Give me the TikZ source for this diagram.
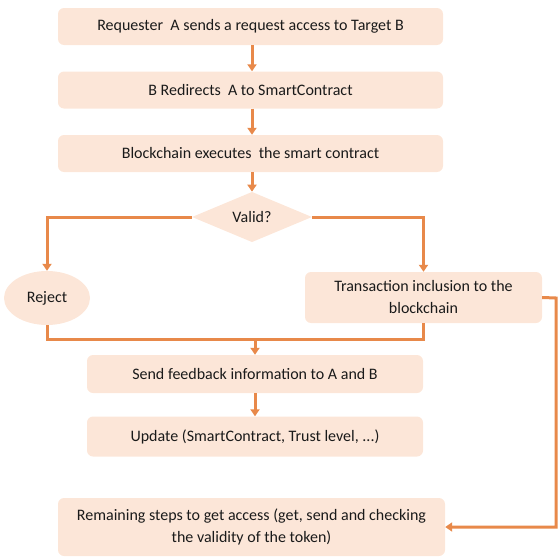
\documentclass[tikz,border=0pt]{standalone}
\usepackage{fontspec}
\setmainfont{Carlito}
\usetikzlibrary{shapes.geometric,arrows.meta}
\definecolor{boxfill}{HTML}{FCE6D8}
\definecolor{linecol}{HTML}{E8894A}
\definecolor{txt}{HTML}{1A1A1A}
\tikzset{
  stepbox/.style={draw=none,fill=boxfill,rounded corners=6pt,align=center,
    text=txt,font=\fontsize{16}{22}\selectfont,inner sep=0pt},
  conn/.style={draw=linecol,line width=3pt},
  arr/.style={conn,-{Triangle[width=9pt,length=7pt]}},
}
\begin{document}
\begin{tikzpicture}[x=1pt,y=-1pt]
\useasboundingbox (0,0) rectangle (558,557);
\node[stepbox,minimum width=385pt,minimum height=37pt] (b1) at (250.5,26.5) {Requester\ \ A sends a request access to Target B};
\node[stepbox,minimum width=385pt,minimum height=37pt] (b2) at (250.5,90) {B Redirects\ \ A to SmartContract};
\node[stepbox,minimum width=385pt,minimum height=37pt] (b3) at (250.5,153.5) {Blockchain executes\ \ the smart contract};
\node[diamond,fill=boxfill,text=txt,font=\fontsize{16}{19}\selectfont,minimum width=120pt,minimum height=50pt,inner sep=0pt] (valid) at (252,217) {Valid?};
\node[ellipse,fill=boxfill,text=txt,font=\fontsize{16}{19}\selectfont,minimum width=86pt,minimum height=54pt,inner sep=0pt] (rej) at (47,298) {Reject};
\node[stepbox,minimum width=237pt,minimum height=51pt] (trans) at (423.5,297.5) {Transaction inclusion to the\\blockchain};
\node[stepbox,minimum width=336pt,minimum height=38pt] (send) at (255,374) {Send feedback information to A and B};
\node[stepbox,minimum width=336pt,minimum height=40pt] (upd) at (255,436.5) {Update (SmartContract, Trust level, ...)};
\node[stepbox,minimum width=387pt,minimum height=58pt] (rem) at (251.5,527) {Remaining steps to get access (get, send and checking\\the validity of the token)};

\coordinate (hl) at (255,339);
\coordinate (rr) at (556,298);

\draw[arr] (b1.south -| valid.north) -- (b2.north -| valid.north);
\draw[arr] (b2.south -| valid.north) -- (b3.north -| valid.north);
\draw[arr] (b3.south -| valid.north) -- (valid.north);
\draw[arr] (valid.west) -| (rej.north);
\draw[arr] (valid.east) -| (trans.north);
\draw[conn] (rej.south) |- (hl) -| (trans.south);
\draw[arr] (hl) -- (send.north);
\draw[arr] (send.south) -- (upd.north);
\draw[arr] (trans.east) -- (rr) |- (rem.east);
\end{tikzpicture}
\end{document}
